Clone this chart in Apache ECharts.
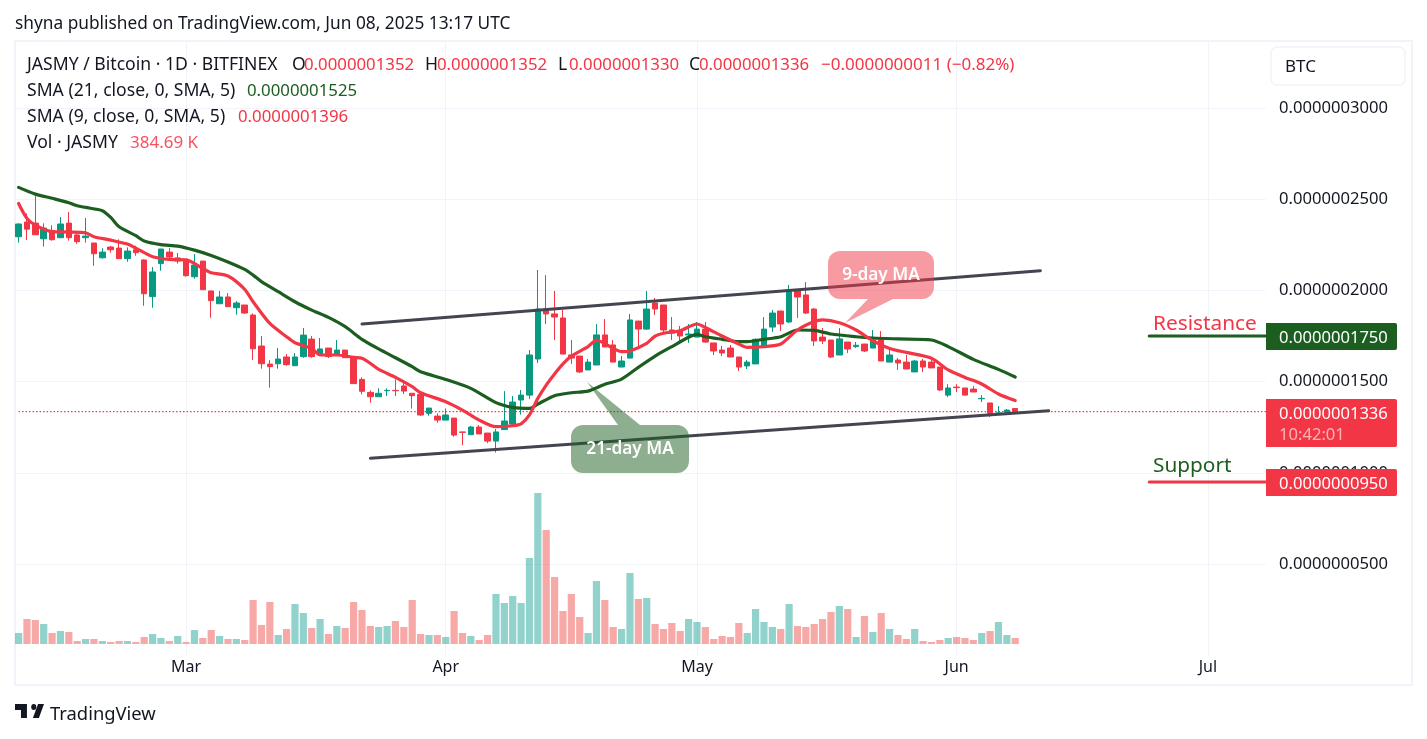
<!DOCTYPE html>
<html><head><meta charset="utf-8"><style>html,body{margin:0;padding:0;background:#fff}#c{width:1427px;height:739px}</style>
<script src="https://cdn.jsdelivr.net/npm/echarts@6/dist/echarts.min.js"></script></head><body><div id="c"></div>
<script>
// prices in units of 1e-7 BTC; volumes in thousands
const priceUnit = 1e-7;
const firstDate = Date.UTC(2025,1,9);
const slotCount = 150;
const monthTicks = {20:'Mar',51:'Apr',81:'May',112:'Jun',142:'Jul'};
// [open, close, low, high]
const candles = [
[2.294,2.364,2.262,2.368],[2.375,2.336,2.276,2.422],[2.369,2.305,2.305,2.517],[2.283,2.342,2.240,2.368],[2.329,2.278,2.273,2.357],
[2.289,2.364,2.289,2.402],[2.369,2.289,2.273,2.430],[2.304,2.267,2.256,2.313],[2.289,2.298,2.262,2.397],[2.260,2.201,2.135,2.260],
[2.179,2.210,2.174,2.231],[2.238,2.223,2.207,2.243],[2.232,2.174,2.174,2.280],[2.174,2.216,2.157,2.236],[2.223,2.207,2.190,2.245],
[2.167,1.982,1.916,2.170],[1.966,2.101,1.905,2.128],[2.147,2.227,2.108,2.227],[2.210,2.183,2.174,2.232],[2.161,2.178,2.147,2.205],
[2.160,2.081,2.075,2.160],[2.075,2.139,2.064,2.199],[2.161,2.004,2.004,2.161],[1.997,1.944,1.850,1.997],[1.927,1.964,1.927,1.997],
[1.964,1.911,1.911,1.986],[1.905,1.931,1.867,1.942],[1.920,1.876,1.872,1.920],[1.865,1.680,1.618,1.874],[1.695,1.598,1.571,1.750],
[1.596,1.582,1.467,1.618],[1.598,1.624,1.571,1.684],[1.635,1.593,1.587,1.651],[1.587,1.635,1.587,1.657],[1.637,1.755,1.631,1.794],
[1.733,1.637,1.631,1.750],[1.651,1.679,1.651,1.739],[1.684,1.637,1.629,1.684],[1.651,1.673,1.651,1.728],[1.673,1.631,1.631,1.673],
[1.637,1.489,1.489,1.637],[1.512,1.447,1.430,1.523],[1.441,1.417,1.384,1.452],[1.417,1.436,1.417,1.463],[1.450,1.452,1.421,1.463],
[1.452,1.450,1.421,1.512],[1.476,1.448,1.432,1.496],[1.436,1.423,1.352,1.436],[1.430,1.317,1.313,1.445],[1.326,1.355,1.313,1.355],
[1.311,1.289,1.275,1.326],[1.289,1.317,1.289,1.353],[1.300,1.207,1.198,1.300],[1.224,1.222,1.152,1.224],[1.209,1.251,1.209,1.257],
[1.251,1.213,1.213,1.262],[1.218,1.174,1.163,1.218],[1.174,1.224,1.112,1.240],[1.237,1.284,1.237,1.448],[1.267,1.388,1.262,1.421],
[1.399,1.426,1.319,1.454],[1.426,1.646,1.405,1.673],[1.624,1.898,1.602,2.112],[1.898,1.871,1.816,2.084],[1.871,1.854,1.728,1.997],
[1.849,1.651,1.651,1.893],[1.646,1.629,1.597,1.728],[1.640,1.553,1.547,1.640],[1.564,1.607,1.564,1.624],[1.591,1.756,1.591,1.816],
[1.756,1.690,1.690,1.843],[1.701,1.607,1.607,1.728],[1.580,1.613,1.580,1.640],[1.629,1.838,1.629,1.871],[1.832,1.788,1.695,1.832],
[1.788,1.898,1.783,1.997],[1.931,1.898,1.865,1.958],[1.920,1.783,1.772,1.920],[1.783,1.766,1.728,1.854],[1.777,1.750,1.723,1.805],
[1.756,1.761,1.712,1.816],[1.744,1.788,1.744,1.827],[1.788,1.717,1.712,1.827],[1.712,1.668,1.646,1.712],[1.673,1.657,1.640,1.695],
[1.684,1.635,1.635,1.701],[1.635,1.580,1.558,1.635],[1.586,1.607,1.569,1.618],[1.597,1.732,1.597,1.737],[1.695,1.788,1.695,1.854],
[1.799,1.876,1.772,1.893],[1.887,1.816,1.777,1.887],[1.827,2.002,1.821,2.030],[2.002,1.964,1.849,2.002],[1.975,1.876,1.871,2.046],
[1.898,1.723,1.695,1.903],[1.744,1.723,1.706,1.794],[1.728,1.635,1.629,1.728],[1.646,1.734,1.646,1.794],[1.717,1.679,1.657,1.717],
[1.692,1.699,1.684,1.717],[1.706,1.668,1.662,1.706],[1.684,1.728,1.684,1.783],[1.728,1.613,1.613,1.777],[1.607,1.646,1.607,1.673],
[1.618,1.602,1.564,1.629],[1.607,1.569,1.569,1.646],[1.553,1.613,1.553,1.618],[1.613,1.580,1.553,1.624],[1.607,1.575,1.575,1.618],
[1.580,1.454,1.448,1.580],[1.426,1.465,1.415,1.486],[1.470,1.467,1.443,1.486],[1.465,1.426,1.426,1.465],[1.459,1.443,1.443,1.476],
[1.406,1.408,1.388,1.426],[1.383,1.326,1.306,1.383],[1.326,1.328,1.317,1.366],[1.332,1.344,1.326,1.350],[1.352,1.336,1.330,1.352]];
const volumes = [705,1603,1539,1282,705,833,769,192,321,321,192,128,192,192,128,449,641,385,192,513,128,898,385,898,513,321,321,256,2821,1218,2693,577,962,2564,1987,1026,1603,641,1154,1026,2693,2180,1154,1090,1154,1475,1090,2821,641,577,577,449,2116,705,513,256,577,3206,2629,3077,2629,5513,9681,7309,4295,2116,3206,1731,705,4039,2821,1090,962,4552,2885,2949,1282,962,1346,833,1603,1410,1090,321,513,449,1346,705,2244,1410,1090,962,2564,1154,1090,1282,1603,2052,2436,2244,449,1795,769,1987,962,577,321,962,192,128,256,385,449,385,256,705,833,1410,577,385];
const sma9Points = [[0,2.477],[1,2.395],[2,2.358],[4,2.322],[6,2.320],[8,2.316],[9,2.294],[11,2.276],[13,2.254],[14,2.231],[15,2.207],[16,2.185],[18,2.170],[20,2.167],[22,2.121],[23,2.097],[25,2.079],[27,2.006],[28,1.938],[30,1.819],[32,1.746],[33,1.713],[35,1.682],[36,1.646],[38,1.646],[40,1.633],[41,1.628],[42,1.600],[43,1.567],[45,1.523],[47,1.472],[48,1.439],[51,1.390],[53,1.344],[55,1.289],[57,1.253],[59,1.258],[60,1.268],[61,1.317],[62,1.408],[63,1.481],[64,1.542],[65,1.597],[66,1.640],[68,1.692],[69,1.728],[71,1.682],[72,1.664],[73,1.668],[75,1.710],[76,1.750],[77,1.765],[79,1.779],[81,1.816],[82,1.797],[84,1.750],[86,1.706],[87,1.688],[89,1.692],[91,1.706],[93,1.783],[95,1.829],[96,1.838],[98,1.823],[100,1.783],[102,1.724],[104,1.682],[106,1.660],[109,1.628],[111,1.564],[113,1.523],[115,1.487],[117,1.432],[119,1.396]];
const sma21Points = [[0,2.565],[2,2.528],[4,2.505],[6,2.481],[7,2.464],[8,2.455],[10,2.437],[11,2.400],[12,2.349],[14,2.300],[15,2.271],[17,2.251],[19,2.243],[21,2.221],[23,2.192],[25,2.156],[27,2.115],[28,2.084],[29,2.048],[31,1.993],[33,1.938],[35,1.892],[37,1.852],[39,1.801],[41,1.732],[43,1.679],[45,1.631],[47,1.582],[48,1.554],[51,1.512],[54,1.463],[57,1.385],[59,1.359],[61,1.353],[62,1.377],[64,1.423],[66,1.439],[68,1.448],[70,1.485],[72,1.514],[74,1.578],[76,1.640],[78,1.692],[80,1.743],[81,1.759],[82,1.746],[84,1.732],[86,1.719],[87,1.719],[89,1.732],[91,1.746],[93,1.783],[95,1.781],[97,1.761],[100,1.746],[102,1.739],[105,1.734],[109,1.728],[111,1.692],[114,1.622],[117,1.567],[119,1.525]];
const channelTop = [[41,1.816],[122,2.108]];
const channelBottom = [[42,1.080],[123,1.340]];
const resistanceLine = [[135,1.750],[149,1.750]];
const supportLine = [[135,0.950],[149,0.950]];
const lastPriceLine = [[0,1.336],[149,1.336]];

const UP='#089981', DOWN='#f23645', MA21='#1b5e20', INK='#131722', FONT='"Noto Sans"';
const categories = Array.from({length:slotCount},(_,i)=>new Date(firstDate+i*864e5).toISOString().slice(0,10));
const fmtPrice = v => (v*priceUnit).toFixed(10);
const txt=(text,x,y,fill,size,extra)=>({type:'text',x,y,z:6,style:{text,fill,font:((extra&&extra.weight)||'normal')+' '+(size||16)+'px '+FONT,textVerticalAlign:'middle',textAlign:(extra&&extra.align)||'left',opacity:(extra&&extra.opacity)||1}});
const tag=(x,y,w,h,fill)=>({type:'rect',z:5,shape:{x,y,width:w,height:h,r:[0,2,2,0]},style:{fill}});
const lineSeries=(data,color,width,smooth,dash)=>({type:'line',data,symbol:'none',smooth:smooth||false,showSymbol:false,itemStyle:{color},lineStyle:{color,width,cap:dash?'butt':'round',join:'round',type:dash||'solid'},silent:true,z:3,xAxisIndex:0,yAxisIndex:0,animation:false});
const logo={x:15,y:698,scaleX:0.853,scaleY:1,z:5};
const LABEL=17.6, NUM=16.8, AXIS=16.6;

const chart=echarts.init(document.getElementById('c'),null,{renderer:'canvas'});
chart.setOption({
 animation:false,backgroundColor:'#fff',textStyle:{fontFamily:FONT},
 grid:{left:14.4,top:42,width:1256.25,height:613.2,containLabel:false},
 xAxis:{type:'category',data:categories,boundaryGap:true,axisLine:{show:false},axisTick:{show:false},
  axisLabel:{interval:i=>monthTicks[i]!==undefined,formatter:(v,i)=>monthTicks[i]||'',color:INK,fontSize:16,fontFamily:FONT,margin:4},
  splitLine:{show:true,alignWithLabel:true,interval:i=>monthTicks[i]!==undefined,lineStyle:{color:'#f0f3fa',width:1}}},
 yAxis:[
  {type:'value',min:0,max:3.362,interval:0.5,position:'right',axisLine:{show:false},axisTick:{show:false},
   axisLabel:{showMinLabel:false,showMaxLabel:false,formatter:fmtPrice,color:INK,fontSize:AXIS,fontFamily:FONT,margin:8.4,padding:[4,0,0,0]},
   splitLine:{show:true,showMinLine:false,showMaxLine:false,lineStyle:{color:'#f0f3fa',width:1}}},
  {type:'value',min:-718,max:38588,show:false,splitLine:{show:false}}
 ],
 series:[
  {type:'bar',data:volumes,yAxisIndex:1,barWidth:7.2,silent:true,z:2,itemStyle:{color:p=>{const c=candles[p.dataIndex];return c&&c[1]>=c[0]?'rgba(38,166,154,0.5)':'rgba(239,83,80,0.5)'}}},
  {type:'candlestick',data:candles,barWidth:6,silent:true,z:2,itemStyle:{color:UP,color0:DOWN,borderColor:UP,borderColor0:DOWN,borderWidth:1}},
  lineSeries(lastPriceLine,DOWN,1.3,false,[1.5,2]),
  lineSeries(sma21Points,MA21,3.2,0.25),
  lineSeries(sma9Points,DOWN,3.2,0.25),
  lineSeries(channelTop,'#434651',3),
  lineSeries(channelBottom,'#434651',3),
  lineSeries(resistanceLine,MA21,3),
  lineSeries(supportLine,DOWN,3)
 ],
 graphic:{elements:[
  {type:'rect',z:0,shape:{x:15,y:41,width:1397,height:644},style:{fill:'none',stroke:'#f0f3fa',lineWidth:2}},
  {type:'rect',z:1,shape:{x:1265.5,y:43,width:6,height:613},style:{fill:'#fff'}},
  {type:'rect',z:5,shape:{x:1271,y:47,width:134,height:38,r:6},style:{fill:'#fff',stroke:'#f0f3fa',lineWidth:1.5}},
  txt('BTC',1285,67,INK,17),
  {type:'rect',z:5,shape:{x:571,y:425,width:118,height:48,r:12},style:{fill:'rgba(27,94,32,0.5)'}},
  {type:'polygon',z:5,shape:{points:[[618,425],[587,382],[640,425]]},style:{fill:'rgba(27,94,32,0.5)'}},
  {type:'rect',z:5,shape:{x:828,y:251,width:106,height:48,r:12},style:{fill:'rgba(242,54,69,0.5)'}},
  {type:'polygon',z:5,shape:{points:[[893,299],[845,323],[868,299]]},style:{fill:'rgba(242,54,69,0.5)'}},
  txt('21-day MA',630,449,'#fff',17.2,{align:'center',weight:'600'}),
  txt('9-day MA',881,275,'#fff',17.2,{align:'center',weight:'600'}),
  txt('Resistance',1153,324,DOWN,20.8),
  txt('Support',1153,466,MA21,20.8),
  tag(1266,323,131,27,MA21), txt('0.0000001750',1279,338,'#fff',AXIS),
  tag(1266,399,131,48,DOWN), txt('0.0000001336',1279,414,'#fff',AXIS), txt('10:42:01',1279,435,'#fff',AXIS,{opacity:0.62}),
  tag(1266,469,131,27,DOWN), txt('0.0000000950',1279,484,'#fff',AXIS),
  txt('shyna published on TradingView.com, Jun 08, 2025 13:17 UTC',15,24.5,INK,17.3),
  txt('JASMY / Bitcoin · 1D · BITFINEX',27,65,INK,LABEL),
  txt('O',292,65,INK,LABEL),txt('0.0000001352',304,65,DOWN,NUM),
  txt('H',425,65,INK,LABEL),txt('0.0000001352',437,65,DOWN,NUM),
  txt('L',558,65,INK,LABEL),txt('0.0000001330',569,65,DOWN,NUM),
  txt('C',689,65,INK,LABEL),txt('0.0000001336',699,65,DOWN,NUM),
  txt('−0.0000000011 (−0.82%)',821,65,DOWN,17),
  txt('SMA (21, close, 0, SMA, 5)',27,91,INK,LABEL),txt('0.0000001525',247,91,MA21,NUM),
  txt('SMA (9, close, 0, SMA, 5)',27,117,INK,LABEL),txt('0.0000001396',238,117,DOWN,NUM),
  txt('Vol · JASMY',27,143,INK,LABEL),txt('384.69 K',130,143,'#f7525f',17),
  Object.assign({type:'polygon',shape:{points:[[0,6],[14,6],[14,20],[7,20],[7,12],[0,12]]},style:{fill:INK}},logo),
  Object.assign({type:'polygon',shape:{points:[[28,20],[21,20],[27,6],[34,6]]},style:{fill:INK}},logo),
  Object.assign({type:'circle',shape:{cx:22,cy:9,r:3},style:{fill:INK}},logo),
  txt('TradingView',50,715,INK,18.4)
 ]}
});
</script></body></html>
